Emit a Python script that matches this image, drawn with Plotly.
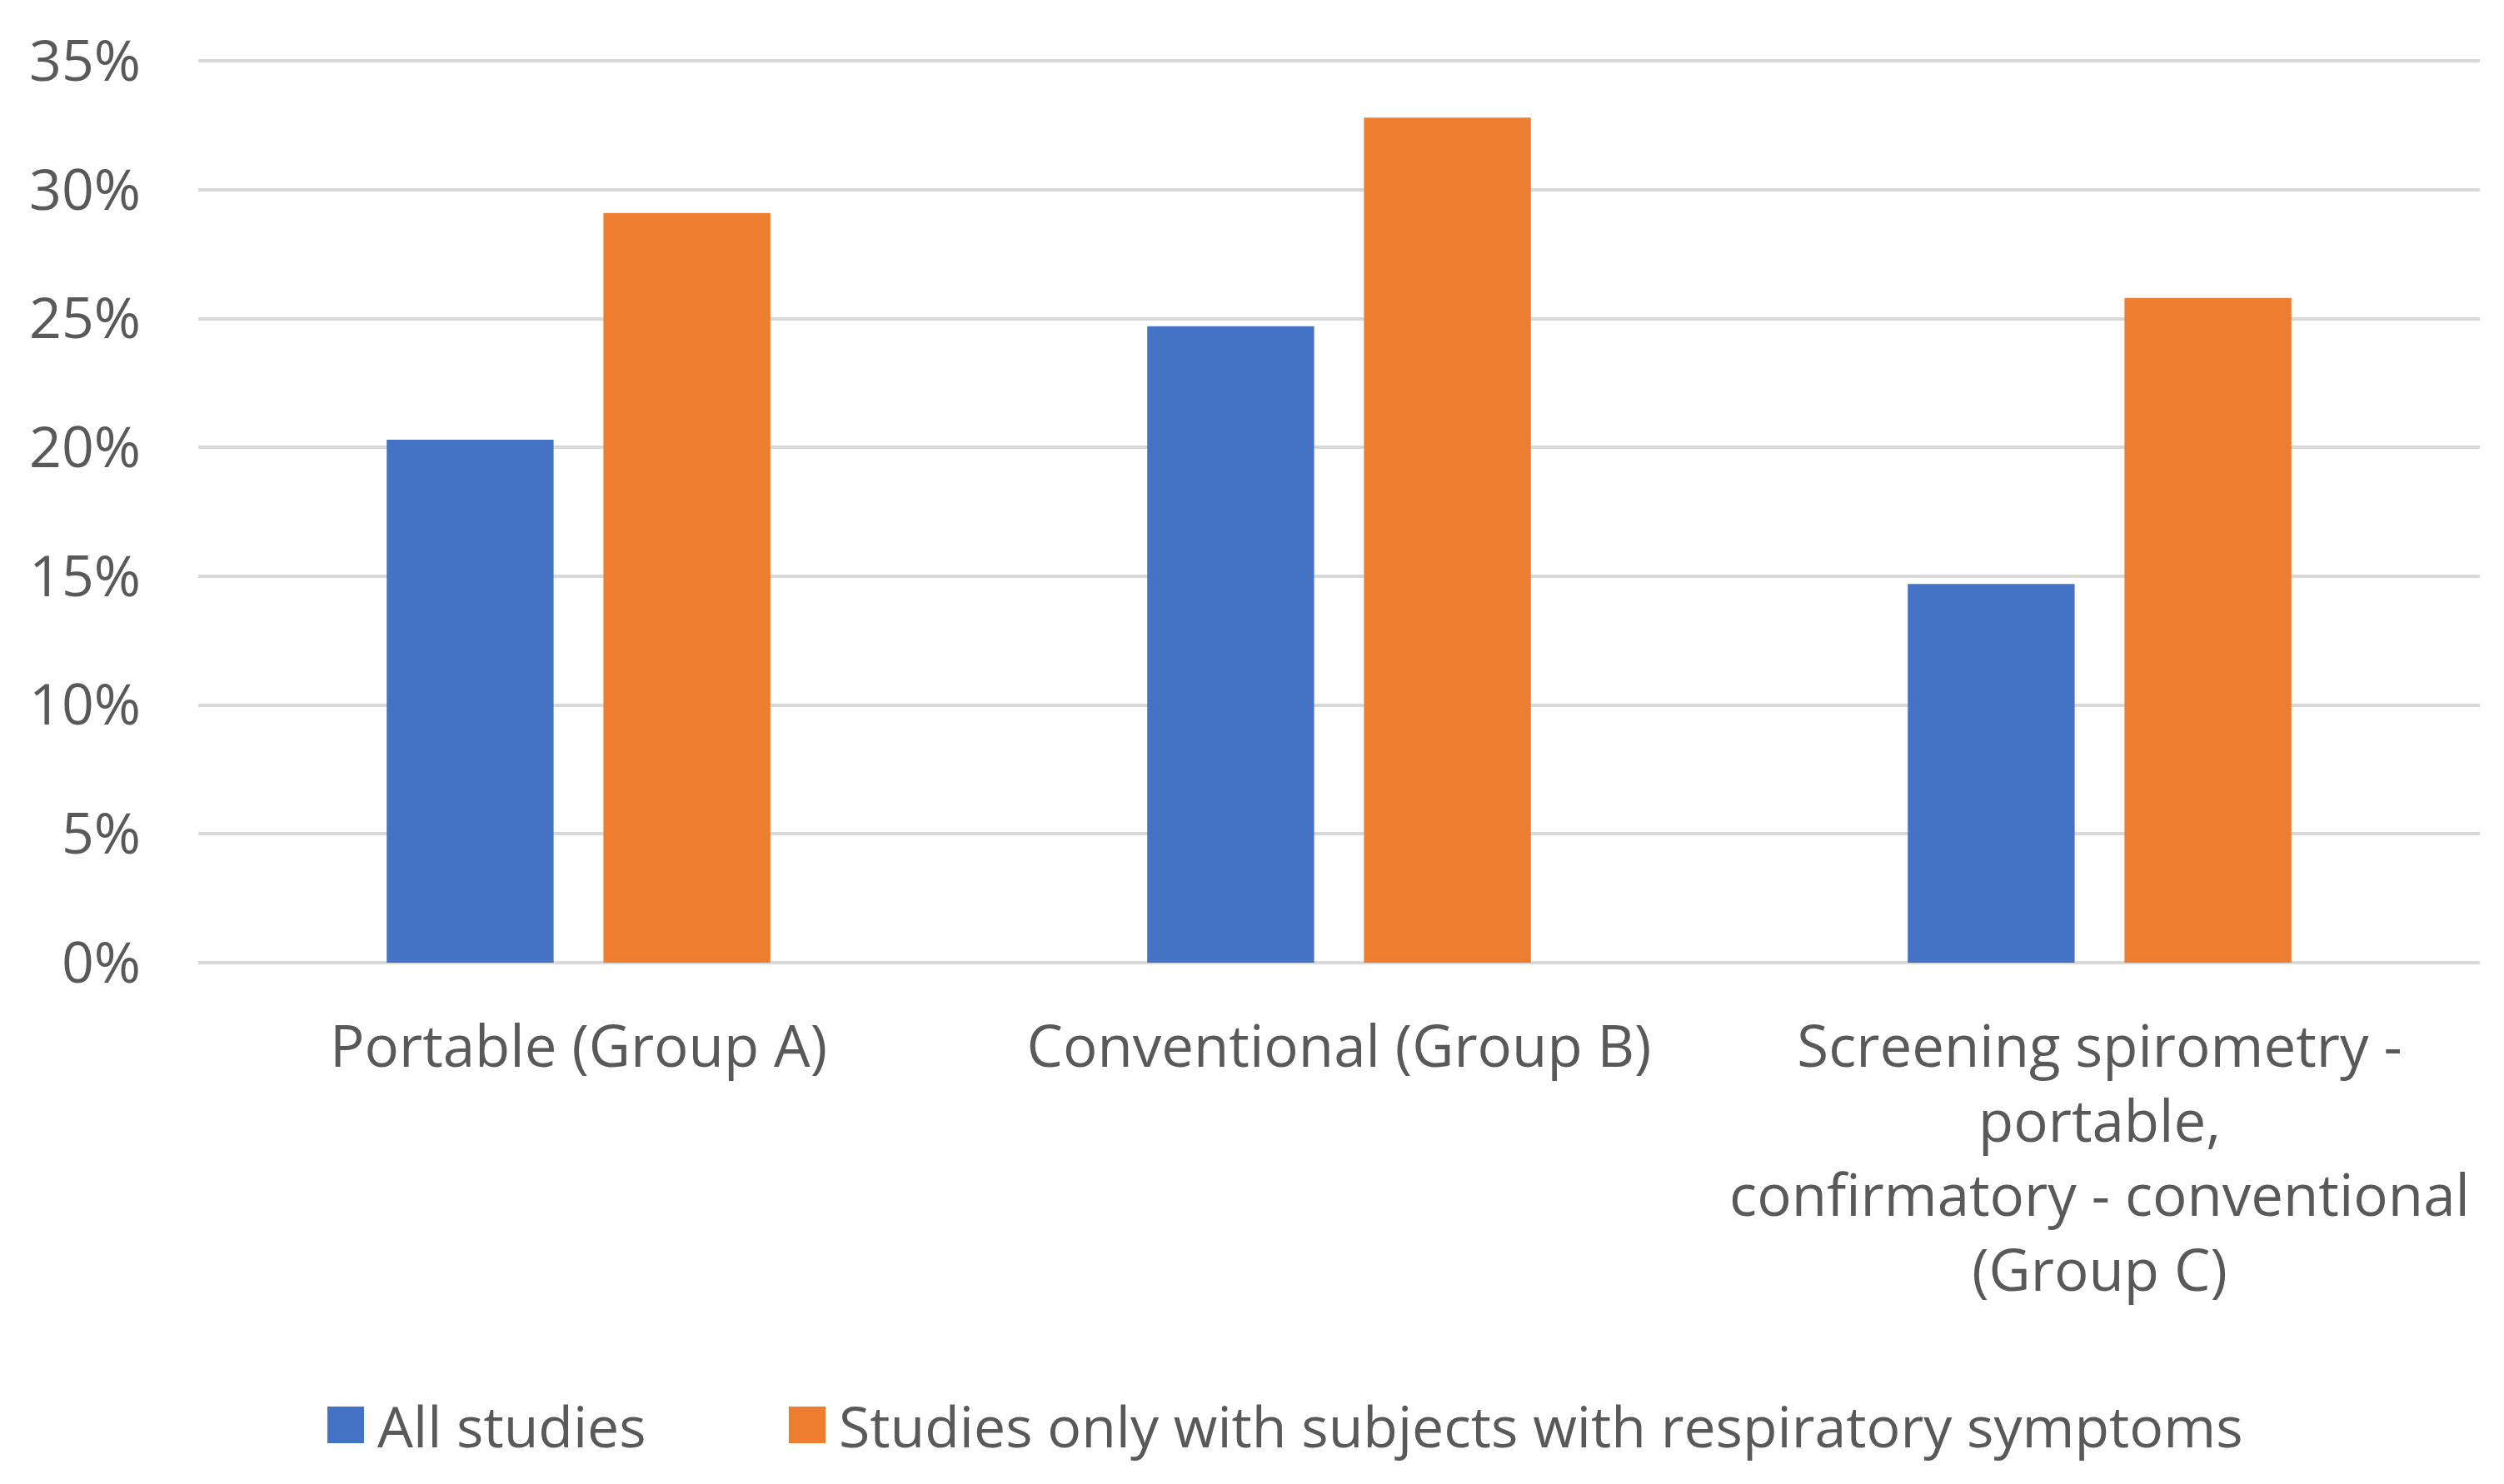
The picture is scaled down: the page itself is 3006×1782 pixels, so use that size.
import plotly.graph_objects as go

categories = [
    "Portable (Group A)",
    "Conventional (Group B)",
    "Screening spirometry -<br>portable,<br>confirmatory - conventional<br>(Group C)",
]
series_names = ["All studies", "Studies only with subjects with respiratory symptoms"]
all_studies = [20.3, 24.7, 14.7]
symptomatic = [29.1, 32.8, 25.8]
y_ticks = [0, 5, 10, 15, 20, 25, 30, 35]
y_tick_labels = [f"{v}%" for v in y_ticks]
colors = ["#4472C4", "#ED7D31"]

FONT = "Open Sans"
TXT = "#595959"

W, H = 2990, 1766
ML, MR, MT, MB = 230, 21, 62, 618

fig = go.Figure()
for name, vals, col in zip(series_names, [all_studies, symptomatic], colors):
    fig.add_trace(go.Bar(x=categories, y=vals, name=name, marker_color=col,
                         marker_line_width=0, showlegend=False))

fig.update_layout(
    width=W, height=H,
    margin=dict(l=ML, r=MR, t=MT, b=MB),
    paper_bgcolor="white", plot_bgcolor="white",
    barmode="group", bargap=0.43, bargroupgap=0.23,
    font=dict(family=FONT, size=68, color=TXT),
)
fig.update_yaxes(range=[0, 35.1], tickvals=y_ticks, ticktext=y_tick_labels,
                 showgrid=True, gridcolor="#D9D9D9", gridwidth=4,
                 zeroline=True, zerolinecolor="#D9D9D9", zerolinewidth=4,
                 showline=False, ticks="", ticklabelstandoff=68,
                 tickfont=dict(family=FONT, size=68, color=TXT))
fig.update_xaxes(showline=False, ticks="", ticklabelstandoff=55,
                 tickfont=dict(family=FONT, size=69, color=TXT))

# legend drawn manually (large square swatches like the source)
plot_w = W - ML - MR
plot_h = H - MT - MB
def px_x(p):
    return (p - 8 - ML) / plot_w
def px_y(p):
    return (H - MB - (p - 8)) / plot_h

legend_items = [(393, series_names[0], colors[0]), (947, series_names[1], colors[1])]
for x0, name, col in legend_items:
    fig.add_shape(type="rect", xref="paper", yref="paper",
                  x0=px_x(x0), x1=px_x(x0 + 44), y0=px_y(1733), y1=px_y(1689),
                  fillcolor=col, line_width=0)
    fig.add_annotation(xref="paper", yref="paper", x=px_x(x0 + 58), y=px_y(1711),
                       text=name, showarrow=False, xanchor="left", yanchor="middle",
                       font=dict(family=FONT, size=68, color=TXT))

fig.write_html("out.html")
